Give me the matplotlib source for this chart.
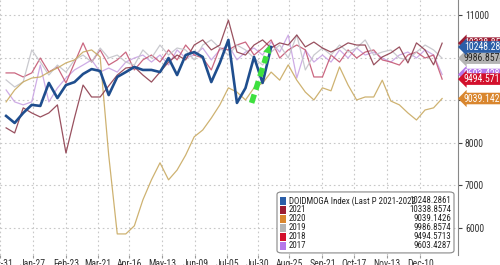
import matplotlib
matplotlib.use("Agg")
import matplotlib.pyplot as plt
from matplotlib.patches import FancyBboxPatch, Rectangle

plt.rcParams['font.family'] = ['Roboto Condensed', 'DejaVu Sans']

# weekly points, x in days from Dec-31
weeks = [5 + 7 * i for i in range(52)]

y2022 = [8630, 8465, 8700, 8890, 8865, 9405, 9050, 9355, 9425, 9615, 9730, 9685,
         9120, 9545, 9660, 9780, 9710, 9710, 9660, 9990, 9590, 10060, 10130, 10015,
         9425, 9875, 10415, 8935, 9285, 10015, 9405, 10248.2861]
y2021 = [8350, 8230, 8820, 8700, 8605, 8700, 8890, 7760, 8585, 9355, 9075, 9075,
         9335, 9590, 9755, 9780, 9590, 9425, 9660, 9895, 10060, 9945, 10295, 10415,
         10180, 10295, 10880, 10130, 10060, 10295, 10415, 10225, 10345, 10295, 10530, 10250,
         10365, 10225, 10130, 10225, 10345, 10295, 10295, 9830, 10015, 10110, 10250, 9875,
         10345, 10180, 9830, 10338.8574]
y2020 = [8960, 9240, 9430, 9520, 9545, 9660, 9755, 9875, 9945, 10130, 10180, 10015,
         7710, 5860, 5860, 6050, 6660, 7130, 7530, 7130, 7360, 7710, 8140, 8300,
         8580, 8890, 9290, 9190, 9005, 9290, 9400, 9660, 9470, 9830, 9470, 9190,
         9005, 9290, 9220, 9780, 9355, 9005, 9075, 9075, 9470, 8980, 8890, 8700,
         8535, 8770, 8820, 9039.1426]
y2019 = [9475, 9310, 9430, 10180, 9895, 9590, 9825, 9660, 9945, 10060, 9895, 10225,
         9990, 10060, 9895, 9825, 10180, 9990, 10295, 10060, 10225, 10180, 9945, 10295,
         10415, 10225, 10060, 10295, 10180, 9990, 9825, 10130, 10295, 9990, 10530, 9710,
         10060, 10225, 10060, 10295, 10130, 10225, 10415, 10060, 10130, 10180, 9990, 9945,
         10130, 10295, 10180, 9986.8574]
y2018 = [9640, 9640, 9545, 9640, 9990, 9660, 9780, 9405, 9875, 10345, 9895, 10180,
         9825, 9945, 10130, 9710, 9945, 10060, 9895, 10180, 9945, 10295, 10060, 9990,
         9710, 10225, 10180, 10295, 10365, 10060, 10225, 10415, 9990, 10180, 10295, 10180,
         9545, 9545, 10060, 9895, 10180, 9990, 10130, 10180, 9945, 9895, 9825, 10060,
         10130, 9990, 10060, 9494.5713]
y2017 = [9240, 8960, 8890, 8960, 9825, 8960, 9285, 9520, 9710, 9825, 9945, 9660,
         9755, 9660, 9895, 9990, 10060, 9895, 10060, 9825, 10180, 9990, 10060, 10225,
         9945, 10180, 10295, 9945, 10130, 10225, 10060, 10365, 10130, 10530, 9520, 10180,
         9895, 10060, 9895, 10180, 9990, 10225, 10060, 10130, 9990, 9895, 10060, 10130,
         9990, 10180, 10060, 9603.4287]

names = ["DOIDMOGA Index (Last P 2021-2022", "2021", "2020", "2019", "2018", "2017"]
last_vals = ["10248.2861", "10338.8574", "9039.1426", "9986.8574", "9494.5713", "9603.4287"]
legend_colors = ["#2a5ea8", "#9c1c32", "#d9862e", "#b4b4b4", "#d3102c", "#b577ea"]
line_colors = ["#1f4e8e", "#8e3e4e", "#c9aa62", "#c4c4ca", "#c55773", "#c9a3e3"]

tick_days = [0, 27, 54, 80, 106, 133, 160, 186, 211, 237, 264, 290, 317, 344]
tick_labels = ["Dec-31", "Jan-27", "Feb-23", "Mar-21", "Apr-16", "May-13", "Jun-09",
               "Jul-05", "Jul-30", "Aug-25", "Sep-21", "Oct-17", "Nov-13", "Dec-10"]

fig = plt.figure(figsize=(5, 2.65), dpi=100)
ax = fig.add_axes([0, 0.038, 0.916, 0.962])

series = [y2022, y2021, y2020, y2019, y2018, y2017]
# draw older years first, 2022 on top
for k in [5, 4, 3, 2, 1]:
    ax.plot(weeks[:len(series[k])], series[k], color=line_colors[k], lw=0.9, alpha=0.9, zorder=2)
ax.plot(weeks[:len(y2022)], y2022, color=line_colors[0], lw=1.9, zorder=4)

# green dashed arrow
ax.plot([206, 218], [8935, 10030], color="#3ee03e", lw=4, ls=(0, (1.6, 0.9)), zorder=5,
        solid_capstyle="butt")
ax.annotate("", xy=(221.5, 10360), xytext=(217.5, 9990),
            arrowprops=dict(arrowstyle="-|>", color="#3ee03e", lw=0, mutation_scale=15), zorder=5)

ax.set_xlim(3.5, 375)
ax.set_ylim(5367, 11352)
ax.set_xticks(tick_days)
ax.set_xticklabels(tick_labels)
ax.set_yticks([6000, 7000, 8000, 9000, 10000, 11000])
ax.yaxis.tick_right()
ax.tick_params(axis="y", labelsize=7, colors="#444444", length=3, pad=2, labelcolor="#333333")
ax.tick_params(axis="x", labelsize=7, colors="#999999", length=2, pad=1, labelcolor="#333333")
ax.grid(True, color="#c8c8c8", ls=(0, (1.5, 2.5)), lw=0.8)
for s in ["top", "left", "bottom"]:
    ax.spines[s].set_visible(False)
ax.spines["right"].set_color("#888888")

# value tags on right axis
tag_order = [1, 5, 4, 2, 3, 0]
tag_text = {0: "white", 1: "white", 2: "white", 3: "#222222", 4: "white", 5: "white"}
tr = ax.get_yaxis_transform()
for k in tag_order:
    ax.text(1.013, float(last_vals[k]), last_vals[k], transform=tr, fontsize=7,
            color=tag_text[k], va="center", ha="left", clip_on=False, zorder=10,
            bbox=dict(boxstyle="larrow,pad=0.08", fc=legend_colors[k], ec="none"))

# legend box
lx0, ly0, lw_, lh = 277 / 458, (255 - 253) / 255, (454 - 277) / 458, (253 - 192) / 255
ax.add_patch(FancyBboxPatch((lx0, ly0), lw_, lh, boxstyle="round,pad=0,rounding_size=0.01",
                            transform=ax.transAxes, fc="white", ec="#888888", lw=0.8, zorder=8))
for j in range(len(names)):
    yy = (255 - (201 + 9 * j)) / 255
    ax.add_patch(Rectangle((280 / 458, yy - 0.014), 6 / 458, 0.028, transform=ax.transAxes,
                           fc=legend_colors[j], ec="none", zorder=9))
    ax.text(289 / 458, yy, names[j], transform=ax.transAxes, fontsize=6.4, va="center",
            ha="left", color="#222222", zorder=9)
    ax.text(451 / 458, yy, last_vals[j], transform=ax.transAxes, fontsize=6.4, va="center",
            ha="right", color="#222222", zorder=9)

fig.savefig("out.png", dpi=100)
